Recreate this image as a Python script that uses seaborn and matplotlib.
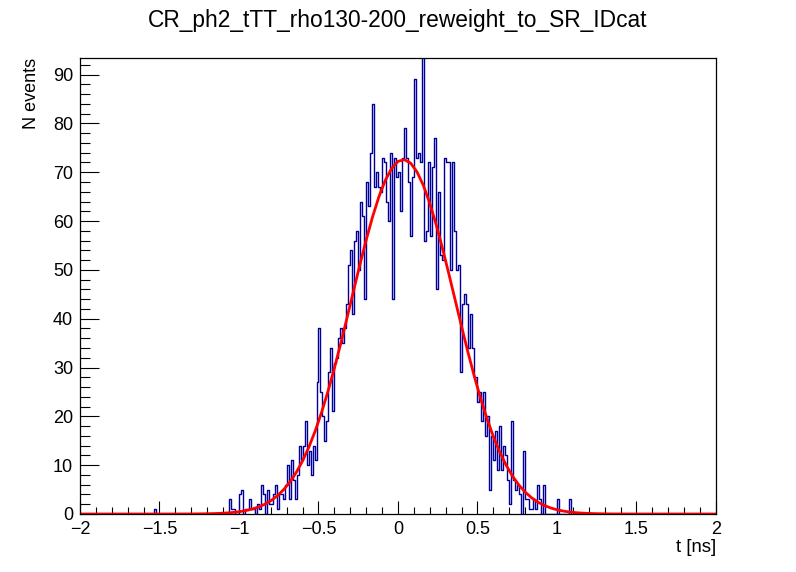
import numpy as np
import pandas as pd
import matplotlib
matplotlib.use("Agg")
import matplotlib.pyplot as plt
import seaborn as sns

# ======================
# histogram data (320 bins from -2 to 2 ns)
n_bins = 320
t_min, t_max = -2.0, 2.0

first_bin = 75
bin_counts = [
    3, 1, 1, 0, 0, 4, 5, 0, 1, 1, 3, 1, 1, 0, 2, 1, 6, 4, 0, 5,
    2, 2, 4, 6, 1, 4, 4, 3, 6, 10, 3, 11, 7, 3, 8, 14, 11, 14, 19, 10,
    13, 8, 14, 11, 27, 38, 25, 20, 15, 19, 29, 34, 21, 31, 32, 36, 38, 35, 38, 43,
    51, 54, 41, 56, 58, 50, 64, 61, 44, 68, 63, 74, 84, 67, 70, 67, 66, 73, 72, 64,
    60, 74, 44, 73, 69, 70, 62, 73, 79, 73, 68, 57, 69, 89, 73, 74, 72, 96, 56, 58,
    72, 57, 71, 77, 46, 66, 53, 52, 73, 72, 72, 50, 72, 58, 50, 51, 29, 43, 45, 43,
    34, 41, 34, 28, 28, 23, 25, 19, 25, 16, 20, 5, 16, 11, 17, 9, 18, 9, 14, 12,
    7, 2, 19, 7, 5, 6, 4, 0, 13, 3, 3, 1, 1, 3, 1, 6, 3, 0, 6, 0,
    0, 0, 0, 0, 0, 3, 0, 0, 0, 0, 0, 3,
]
lone_bins = [37]
lone_counts = [1]

# gaussian fit parameters (constant, mean, sigma)
fit_const = 72.6
fit_mean = 0.033
fit_sigma = 0.325

title = "CR_ph2_tTT_rho130-200_reweight_to_SR_IDcat"

# ======================
# build bins
edges = np.linspace(t_min, t_max, n_bins + 1)
centers = 0.5 * (edges[:-1] + edges[1:])
counts = np.zeros(n_bins)
counts[first_bin:first_bin + len(bin_counts)] = bin_counts
counts[lone_bins] = lone_counts
df = pd.DataFrame({"t": centers, "n": counts})

t_fit = np.linspace(t_min, t_max, 101)
fit_df = pd.DataFrame({"t": t_fit,
                       "f": fit_const * np.exp(-0.5 * ((t_fit - fit_mean) / fit_sigma) ** 2)})

# ======================
# plot setup
sns.set_theme(style="white")
plt.rcParams["font.family"] = ["Liberation Sans", "DejaVu Sans"]
plt.rcParams["text.color"] = "black"
plt.rcParams["xtick.color"] = "black"
plt.rcParams["ytick.color"] = "black"
plt.rcParams["xtick.labelcolor"] = "black"
plt.rcParams["ytick.labelcolor"] = "black"

fig = plt.figure(figsize=(7.96, 5.72), dpi=100)
ax = fig.add_axes([80 / 796, 1 - 514 / 572, 636 / 796, 456 / 572])

sns.histplot(data=df, x="t", weights="n", bins=edges.tolist(), element="step", fill=False,
             color="#000099", linewidth=1.0, ax=ax)
sns.lineplot(data=fit_df, x="t", y="f", color="#ff0000", linewidth=2.0, ax=ax)

ax.set_xlim(t_min, t_max)
ax.set_ylim(0, 93.4)
ax.set_xlabel("")
ax.set_ylabel("")

ax.set_xticks(np.arange(-2, 2.01, 0.5))
ax.set_xticklabels(["\u22122", "\u22121.5", "\u22121", "\u22120.5", "0", "0.5", "1", "1.5", "2"])
ax.set_xticks(np.arange(-2, 2.01, 0.1), minor=True)
ax.set_yticks(np.arange(0, 91, 10))
ax.set_yticks(np.arange(0, 93, 2), minor=True)

ax.tick_params(axis="x", which="major", direction="in", length=9.4, width=0.8,
               labelsize=13, pad=5, colors="black")
ax.tick_params(axis="x", which="minor", direction="in", length=5, width=0.8, colors="black")
ax.tick_params(axis="y", which="major", direction="in", length=13.7, width=0.8,
               labelsize=13, pad=5, colors="black")
ax.tick_params(axis="y", which="minor", direction="in", length=7.2, width=0.8, colors="black")
ax.tick_params(bottom=True, left=True, top=False, right=False, which="both")

for s in ax.spines.values():
    s.set_color("black")
    s.set_linewidth(0.9)

fig.text(0.5, 1 - 20 / 572, title, ha="center", va="center", fontsize=16.4, color="black")
fig.text(32 / 796, 1 - 58 / 572, "N events", rotation=90, ha="center", va="top",
         fontsize=13, color="black")
fig.text(716 / 796, 1 - 547 / 572, "t [ns]", ha="right", va="center", fontsize=13.3, color="black")

fig.savefig("out.png", dpi=100, facecolor="white")
